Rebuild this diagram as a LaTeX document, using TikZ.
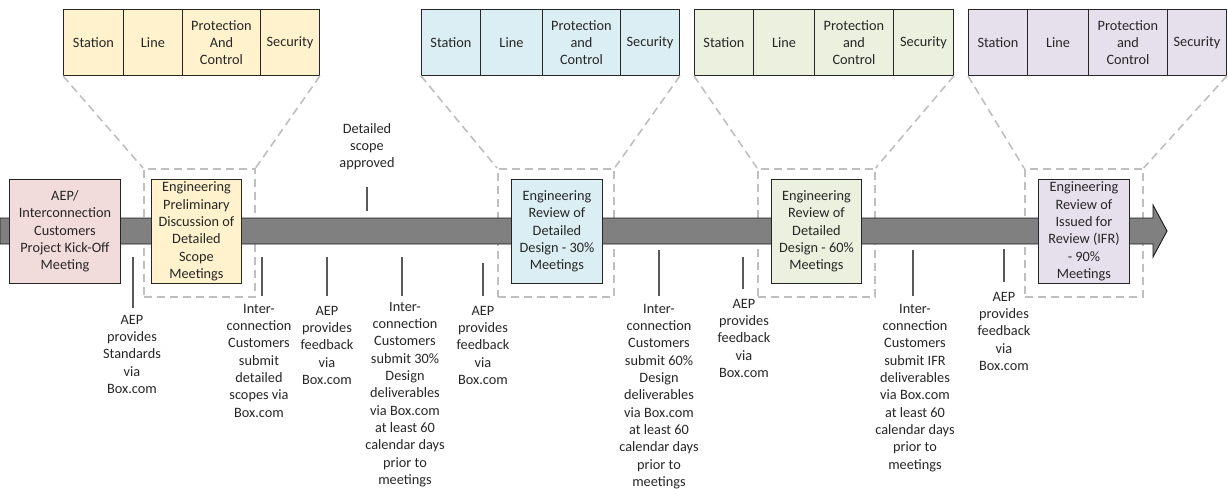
\documentclass[tikz,border=0pt]{standalone}
\usepackage{fontspec}
\setmainfont{Carlito}
\definecolor{cpink}{HTML}{F2DCDB}
\definecolor{cyel}{HTML}{FFF2CC}
\definecolor{cblue}{HTML}{DAEEF3}
\definecolor{cgreen}{HTML}{EBF1DE}
\definecolor{cpurp}{HTML}{E6E0EC}
\definecolor{dashc}{HTML}{BFBFBF}
\definecolor{tickc}{HTML}{595959}
\definecolor{arrowc}{HTML}{808080}
\begin{document}
\begin{tikzpicture}[x=1pt,y=-1pt,
  every node/.style={font=\fontsize{14.3}{17.3}\selectfont, text=black!85},
  cell/.style={draw=black!85, line width=0.9pt, inner sep=0pt, minimum height=66pt, align=center, anchor=north west},
  mile/.style={draw=black!85, line width=0.9pt, inner sep=0pt, align=center, anchor=north west, minimum height=104pt},
  zoomrect/.style={draw=dashc, line width=1.6pt, dash pattern=on 8pt off 5pt, inner sep=0pt, anchor=north west, minimum height=128pt},
  zoomline/.style={draw=dashc, line width=1.6pt, dash pattern=on 8pt off 5pt},
  tickline/.style={draw=tickc, line width=1.2pt},
  note/.style={align=center, inner sep=0pt, anchor=north}]
\useasboundingbox (0,0) rectangle (1228,489);

% top tables
\node[cell, fill=cyel, minimum width=60pt] (t1a) at (63,9) {Station};
\node[cell, fill=cyel, minimum width=59pt] (t1b) at (123,9) {Line};
\node[cell, fill=cyel, minimum width=78pt] (t1c) at (182,9) {Protection\\And\\Control};
\node[cell, fill=cyel, minimum width=59pt] (t1d) at (260,9) {Security};

\node[cell, fill=cblue, minimum width=59pt] (t2a) at (421,9) {Station};
\node[cell, fill=cblue, minimum width=62pt] (t2b) at (480,9) {Line};
\node[cell, fill=cblue, minimum width=78pt] (t2c) at (542,9) {Protection\\and\\Control};
\node[cell, fill=cblue, minimum width=59pt] (t2d) at (620,9) {Security};

\node[cell, fill=cgreen, minimum width=59pt] (t3a) at (694,9) {Station};
\node[cell, fill=cgreen, minimum width=61pt] (t3b) at (753,9) {Line};
\node[cell, fill=cgreen, minimum width=79pt] (t3c) at (814,9) {Protection\\and\\Control};
\node[cell, fill=cgreen, minimum width=60pt] (t3d) at (893,9) {Security};

\node[cell, fill=cpurp, minimum width=59pt] (t4a) at (968,9) {Station};
\node[cell, fill=cpurp, minimum width=61pt] (t4b) at (1027,9) {Line};
\node[cell, fill=cpurp, minimum width=79pt] (t4c) at (1088,9) {Protection\\and\\Control};
\node[cell, fill=cpurp, minimum width=59pt] (t4d) at (1167,9) {Security};

% dashed zoom rectangles
\node[zoomrect, minimum width=111pt] (z1) at (143,168) {};
\node[zoomrect, minimum width=116pt] (z2) at (497,168) {};
\node[zoomrect, minimum width=117pt] (z3) at (757,168) {};
\node[zoomrect, minimum width=118pt] (z4) at (1024,168) {};

\draw[zoomline] (t1a.south west) -- (z1.north west);
\draw[zoomline] (t1d.south east) -- (z1.north east);
\draw[zoomline] (t2a.south west) -- (z2.north west);
\draw[zoomline] (t2d.south east) -- (z2.north east);
\draw[zoomline] (t3a.south west) -- (z3.north west);
\draw[zoomline] (t3d.south east) -- (z3.north east);
\draw[zoomline] (t4a.south west) -- (z4.north west);
\draw[zoomline] (t4d.south east) -- (z4.north east);

% timeline arrow
\draw[fill=arrowc, draw=black!90, line width=0.9pt]
  (0,218) -- (1153,218) -- (1153,205) -- (1167,231) -- (1153,257) -- (1153,244) -- (0,244) -- cycle;

% milestone boxes
\node[mile, fill=cpink, minimum width=111pt] (k) at (9,179) {AEP/\\Interconnection\\Customers\\Project Kick-Off\\Meeting};
\node[mile, fill=cyel, minimum width=90pt] (p) at (151,179) {Engineering\\Preliminary\\Discussion of\\Detailed\\Scope\\Meetings};
\node[mile, fill=cblue, minimum width=91pt] (r30) at (511,179) {Engineering\\Review of\\Detailed\\Design - 30\%\\Meetings};
\node[mile, fill=cgreen, minimum width=90pt] (r60) at (771,179) {Engineering\\Review of\\Detailed\\Design - 60\%\\Meetings};
\node[mile, fill=cpurp, minimum width=91pt] (r90) at (1038,179) {Engineering\\Review of\\Issued for\\Review (IFR)\\- 90\%\\Meetings};

% ticks
\coordinate (a1) at (133,257); \coordinate (b1) at (133,308);
\coordinate (a2) at (262,257); \coordinate (b2) at (262,296);
\coordinate (a3) at (327,257); \coordinate (b3) at (327,296);
\coordinate (a4) at (402,257); \coordinate (b4) at (402,296);
\coordinate (a5) at (367,187); \coordinate (b5) at (367,211);
\coordinate (a6) at (483,263); \coordinate (b6) at (483,296);
\coordinate (a7) at (659,250); \coordinate (b7) at (659,296);
\coordinate (a8) at (743,257); \coordinate (b8) at (743,289);
\coordinate (a9) at (913,250); \coordinate (b9) at (913,296);
\coordinate (a10) at (1004,249); \coordinate (b10) at (1004,282);
\foreach \i in {1,...,10} \draw[tickline] (a\i) -- (b\i);

% notes
\node[note] (n1) at (132,315) {AEP\\provides\\Standards\\via\\Box.com};
\node[note] (n2) at (259,304) {Inter-\\connection\\Customers\\submit\\detailed\\scopes via\\Box.com};
\node[note] (n3) at (327,306) {AEP\\provides\\feedback\\via\\Box.com};
\node[note] (n4) at (405,302) {Inter-\\connection\\Customers\\submit 30\%\\Design\\deliverables\\via Box.com\\at least 60\\calendar days\\prior to\\meetings};
\node[note] (n5) at (367,123) {Detailed\\scope\\approved};
\node[note] (n6) at (483,306) {AEP\\provides\\feedback\\via\\Box.com};
\node[note] (n7) at (659,304) {Inter-\\connection\\Customers\\submit 60\%\\Design\\deliverables\\via Box.com\\at least 60\\calendar days\\prior to\\meetings};
\node[note] (n8) at (744,299) {AEP\\provides\\feedback\\via\\Box.com};
\node[note] (n9) at (915,304) {Inter-\\connection\\Customers\\submit IFR\\deliverables\\via Box.com\\at least 60\\calendar days\\prior to\\meetings};
\node[note] (n10) at (1004,292) {AEP\\provides\\feedback\\via\\Box.com};
\end{tikzpicture}
\end{document}
